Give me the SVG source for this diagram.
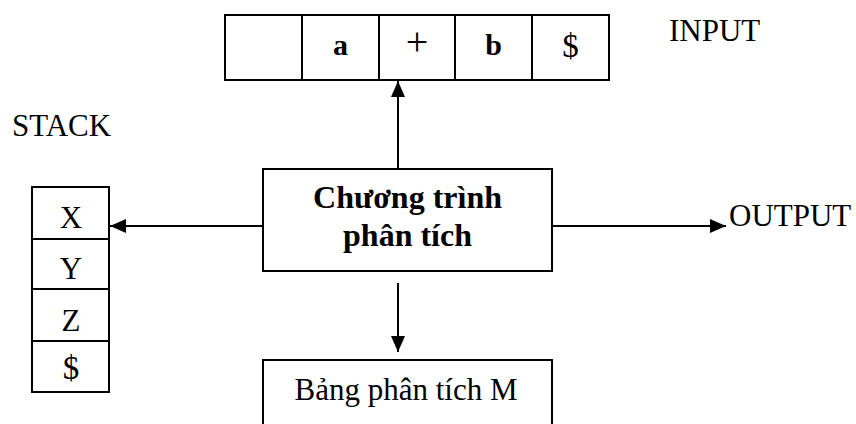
<svg xmlns="http://www.w3.org/2000/svg" width="856" height="424" viewBox="0 0 856 424">
<style>
.box{fill:#fff;stroke:#000;stroke-width:2}
.ln{stroke:#000;stroke-width:2;fill:none}
.t{font-family:"Liberation Serif","Times New Roman",serif;fill:#000}
.lbl{font-size:31px}
.b{font-weight:bold}
.c{text-anchor:middle}
.cell{font-size:30px}
.stk{font-size:31px}
.dol{font-size:33px}
</style>
<defs>
<marker id="ah" markerUnits="userSpaceOnUse" markerWidth="16" markerHeight="14" refX="16" refY="7" orient="auto">
<path d="M0,0 L16,7 L0,14 z" fill="#000"/>
</marker>
</defs>
<g id="input">
<rect class="box" x="225" y="15" width="384" height="65"/>
<line class="ln" x1="302" y1="15" x2="302" y2="80"/>
<line class="ln" x1="379" y1="15" x2="379" y2="80"/>
<line class="ln" x1="455" y1="15" x2="455" y2="80"/>
<line class="ln" x1="532" y1="15" x2="532" y2="80"/>
<text class="t cell b c" x="340.5" y="55">a</text>
<text class="t c" font-size="40" x="417" y="55">+</text>
<text class="t cell b c" x="493.5" y="55">b</text>
<text class="t dol c" x="570.5" y="57">$</text>
</g>
<g id="input-label"><text class="t lbl" x="669" y="41">INPUT</text></g>
<g id="stack-label"><text class="t lbl" x="12" y="136">STACK</text></g>
<g id="stack">
<rect class="box" x="32" y="187" width="77" height="205"/>
<line class="ln" x1="32" y1="239" x2="109" y2="239"/>
<line class="ln" x1="32" y1="289" x2="109" y2="289"/>
<line class="ln" x1="32" y1="341" x2="109" y2="341"/>
<text class="t stk c" x="71" y="228">X</text>
<text class="t stk c" x="71" y="279">Y</text>
<text class="t stk c" x="71" y="331">Z</text>
<text class="t dol c" x="71" y="379">$</text>
</g>
<g id="program">
<rect class="box" x="263" y="169" width="289" height="102"/>
<text class="t b c" font-size="32" x="407.5" y="208">Chương trình</text>
<text class="t b c" font-size="32" x="407.5" y="246">phân tích</text>
</g>
<g id="table">
<rect class="box" x="263" y="360" width="289" height="80"/>
<text class="t lbl c" x="406" y="400">Bảng phân tích M</text>
</g>
<g id="output-label"><text class="t lbl" x="729" y="226">OUTPUT</text></g>
<g id="connectors">
<line class="ln" x1="398" y1="168" x2="398" y2="81" marker-end="url(#ah)"/>
<line class="ln" x1="262" y1="226" x2="110" y2="226" marker-end="url(#ah)"/>
<line class="ln" x1="553" y1="226" x2="726" y2="226" marker-end="url(#ah)"/>
<line class="ln" x1="398" y1="283" x2="398" y2="352" marker-end="url(#ah)"/>
</g>
</svg>
